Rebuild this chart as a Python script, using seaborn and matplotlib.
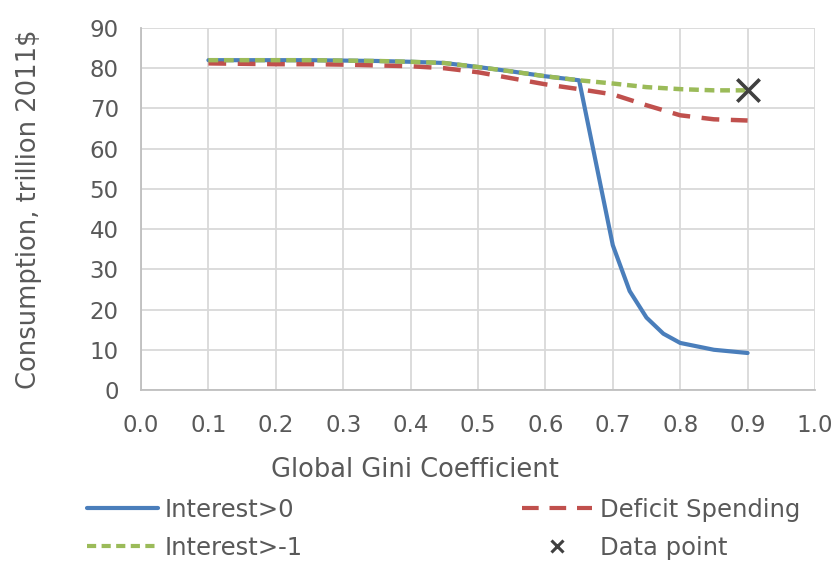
import matplotlib
matplotlib.use("Agg")
import matplotlib.pyplot as plt
import seaborn as sns
import pandas as pd
from matplotlib.lines import Line2D

# Global Gini coefficient grid
gini = [0.1, 0.15, 0.2, 0.25, 0.3, 0.35, 0.4, 0.45, 0.5, 0.55, 0.6, 0.65,
        0.7, 0.725, 0.75, 0.775, 0.8, 0.85, 0.9]
interest_pos = [82.0, 82.0, 82.0, 82.0, 81.9, 81.8, 81.6, 81.3, 80.3, 79.2, 78.0, 77.0,
                36.0, 24.6, 18.0, 14.0, 11.7, 10.0, 9.2]

gini_b = [0.1, 0.15, 0.2, 0.25, 0.3, 0.35, 0.4, 0.45, 0.5, 0.55, 0.6, 0.65,
          0.7, 0.75, 0.8, 0.85, 0.9]
interest_neg1 = [82.0, 82.0, 82.0, 82.0, 81.9, 81.8, 81.6, 81.3, 80.3, 79.2, 78.0, 77.0,
                 76.2, 75.3, 74.8, 74.5, 74.5]
deficit = [81.2, 81.1, 81.0, 81.0, 80.9, 80.7, 80.5, 80.0, 79.0, 77.5, 76.0, 74.8,
           73.5, 70.8, 68.3, 67.3, 67.0]

point_x = [0.9]
point_y = [74.5]

x_ticks = [0.0, 0.1, 0.2, 0.3, 0.4, 0.5, 0.6, 0.7, 0.8, 0.9, 1.0]
y_ticks = [0, 10, 20, 30, 40, 50, 60, 70, 80, 90]

BLUE = "#4A7EBB"
RED = "#C0504D"
GREEN = "#9BBB59"
TEXT = "#595959"
GRID = "#D9D9D9"

sns.set_theme(style="white")
plt.rcParams["font.family"] = ["DejaVu Sans"]

fig = plt.figure(figsize=(8.37, 5.61), dpi=100)
ax = fig.add_axes([141 / 837, 1 - 390 / 561, (815 - 141) / 837, (390 - 28) / 561])

df_a = pd.DataFrame({"x": gini, "y": interest_pos})
df_b = pd.DataFrame({"x": gini_b, "neg1": interest_neg1, "def": deficit})

sns.lineplot(data=df_a, x="x", y="y", ax=ax, color=BLUE, lw=3, zorder=3)
sns.lineplot(data=df_b, x="x", y="def", ax=ax, color=RED, lw=3.2, zorder=4)
ax.lines[-1].set_dashes([4, 2.6])
sns.lineplot(data=df_b, x="x", y="neg1", ax=ax, color=GREEN, lw=3.2, zorder=5)
ax.lines[-1].set_dashes([2.2, 1.3])
sns.scatterplot(x=point_x, y=point_y, ax=ax, marker="x", s=260, color="#404040",
                linewidth=2.6, zorder=6)

ax.set_xlim(0, 1.0)
ax.set_ylim(0, 90)
ax.set_xticks(x_ticks)
ax.set_xticklabels([f"{v:.1f}" for v in x_ticks])
ax.set_yticks(y_ticks)
ax.grid(True, color=GRID, lw=1.3)
ax.set_axisbelow(True)
for s in ["top", "right"]:
    ax.spines[s].set_visible(False)
for s in ["left", "bottom"]:
    ax.spines[s].set_color("#BFBFBF")
    ax.spines[s].set_linewidth(1.3)
ax.tick_params(axis="both", length=0, labelsize=16.5, labelcolor=TEXT)
ax.tick_params(axis="x", pad=17)
ax.tick_params(axis="y", pad=16)
ax.set_xlabel("Global Gini Coefficient", fontsize=18.5, color=TEXT)
ax.set_ylabel("Consumption, trillion 2011$", fontsize=18.5, color=TEXT)
ax.xaxis.set_label_coords((415 - 141) / 674, (390 - 457) / 362)
ax.yaxis.set_label_coords((42 - 141) / 674, 0.5)

handles = [
    Line2D([], [], color=BLUE, lw=3),
    Line2D([], [], color=GREEN, lw=3, dashes=[2.2, 1.3]),
    Line2D([], [], color=RED, lw=3, dashes=[4, 2.6]),
    Line2D([], [], color="#404040", marker="x", ls="none", markersize=9, mew=2.2),
]
labels = ["Interest>0", "Interest>-1", "Deficit Spending", "Data point"]
leg = fig.legend(handles, labels, ncol=2, loc="lower left",
                 bbox_to_anchor=(86 / 837, 0.0), frameon=False, fontsize=17.5,
                 handlelength=2.9, handletextpad=0.3, columnspacing=9.0,
                 labelspacing=0.57, borderaxespad=0.0, borderpad=0.05)
for t in leg.get_texts():
    t.set_color(TEXT)

fig.savefig("out.png", dpi=100)
